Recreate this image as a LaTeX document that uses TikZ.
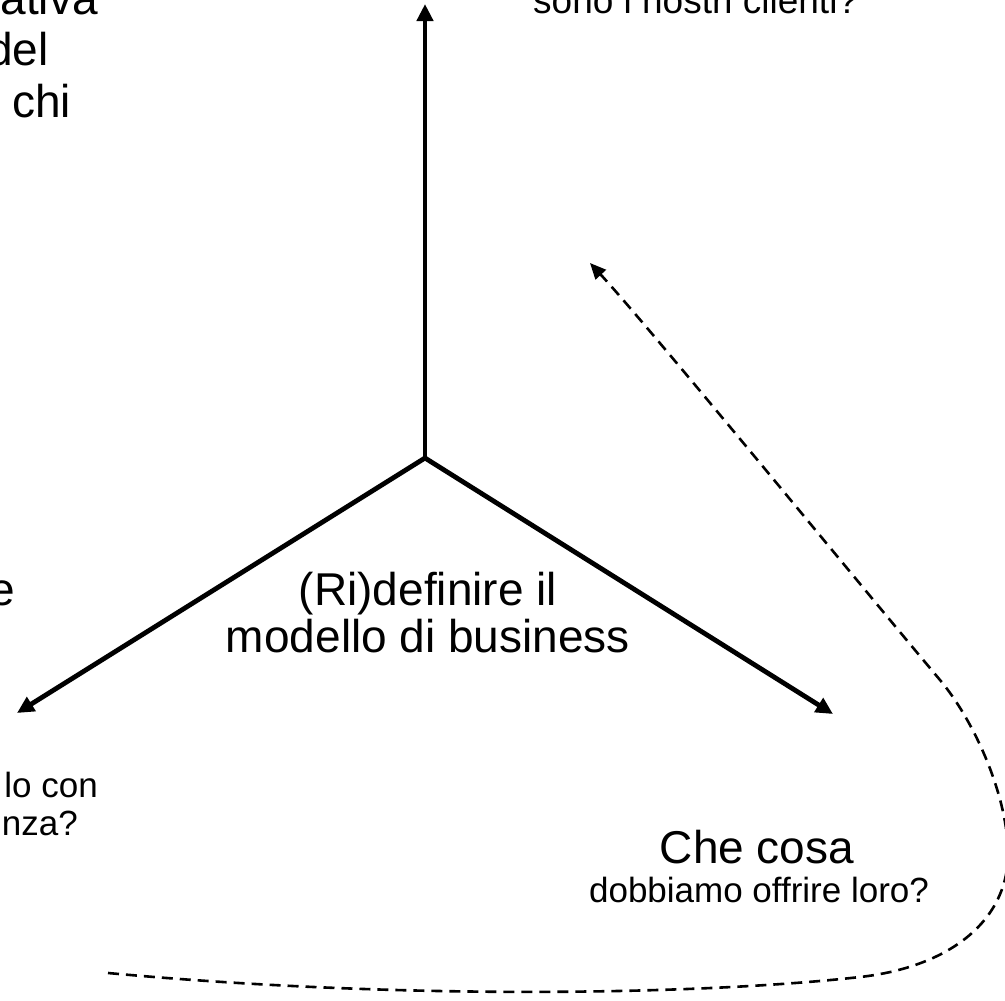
\documentclass[tikz,border=0pt]{standalone}
\usepackage{fontspec}
\setmainfont{Liberation Sans}
\usetikzlibrary{arrows.meta}
\begin{document}
\begin{tikzpicture}[x=1pt,y=-1pt,
  bigtxt/.style={inner sep=0pt,font=\fontsize{46}{48}\selectfont},
  smalltxt/.style={inner sep=0pt,font=\fontsize{35}{39}\selectfont},
  axis/.style={line width=4.8pt,-{Triangle[length=17pt,width=16pt]}},
  loop/.style={line width=2.6pt,dash pattern=on 11pt off 7pt,-{Triangle[length=16pt,width=14pt]}}]
\useasboundingbox (0,0) rectangle (1005,1001);
% axes
\coordinate (J) at (425,458);
\coordinate (TU) at (425,4);
\coordinate (TL) at (17,713);
\coordinate (TR) at (833,714);
\draw[axis] (J) -- (TU);
\draw[axis] (J) -- (TL);
\draw[axis] (J) -- (TR);
% centre text
\node[bigtxt,anchor=base] (c1) at (428,605) {(Ri)definire il};
\node[bigtxt,anchor=base] (c2) at (428,652) {modello di business};
% top-left text (cut)
\node[bigtxt,anchor=base east] (tl1) at (98,15) {ativa};
\node[bigtxt,anchor=base east] (tl2) at (49,65) {del};
\node[bigtxt,anchor=base west] (tl3) at (12,117) {chi};
% left text (cut)
\node[bigtxt,anchor=base east] (le) at (15,605) {e};
% top-right text (cut)
\node[smalltxt,font=\fontsize{37}{40}\selectfont,anchor=base west] (tr1) at (533,13) {sono i nostri clienti?};
% bottom-left text (cut)
\node[smalltxt,anchor=base east] (bl1) at (98,797) {lo con};
\node[smalltxt,anchor=base east] (bl2) at (78,835) {nza?};
% bottom-right text
\node[bigtxt,anchor=base] (br1) at (757,863) {Che cosa};
\node[smalltxt,anchor=base] (br2) at (759,902) {dobbiamo offrire loro?};
% dashed loop
\coordinate (D0) at (108,973);
\coordinate (D1) at (590,263);
\draw[loop] (D0) .. controls (400,1000) and (700,995) .. (860,977)
  .. controls (950,967) and (1010,920) .. (1008,850)
  .. controls (1006,790) and (972,718) .. (940,680)
  .. controls (856,580) and (650,328) .. (D1);
\end{tikzpicture}
\end{document}
